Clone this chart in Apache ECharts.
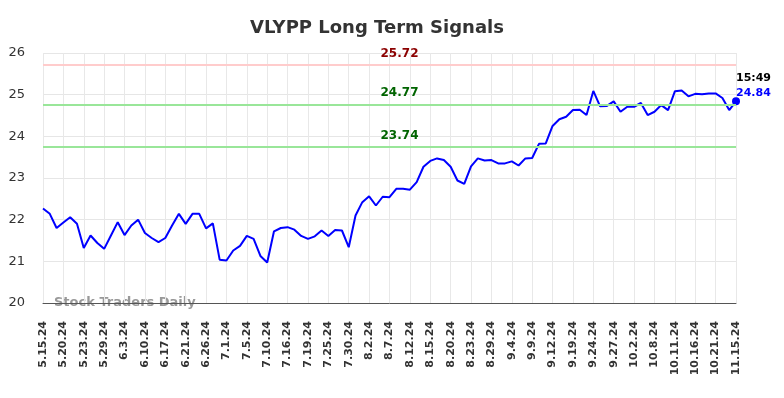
<!DOCTYPE html>
<html>
<head>
<meta charset="utf-8">
<script src="https://cdn.jsdelivr.net/npm/echarts@6/dist/echarts.min.js"></script>
<style>
  html, body { margin: 0; padding: 0; background: #fff; }
  #chart { width: 784px; height: 398px; }
</style>
</head>
<body>
<div id="chart"></div>
<script>
// x axis labels, one every 3 points
const tickLabels = ['5.15.24', '5.20.24', '5.23.24', '5.29.24', '6.3.24', '6.10.24', '6.17.24', '6.21.24',
  '6.26.24', '7.1.24', '7.5.24', '7.10.24', '7.16.24', '7.19.24', '7.25.24', '7.30.24', '8.2.24', '8.7.24',
  '8.12.24', '8.15.24', '8.20.24', '8.23.24', '8.29.24', '9.4.24', '9.9.24', '9.12.24', '9.19.24', '9.24.24',
  '9.27.24', '10.2.24', '10.8.24', '10.11.24', '10.16.24', '10.21.24', '11.15.24']

const prices = [
  22.27, 22.14, 21.80, 21.93, 22.06, 21.90, 21.32, 21.62, 21.44, 21.30,
  21.62, 21.94, 21.63, 21.86, 22.00, 21.68, 21.56, 21.46, 21.56, 21.86,
  22.14, 21.90, 22.14, 22.14, 21.79, 21.91, 21.04, 21.02, 21.26, 21.37,
  21.61, 21.54, 21.13, 20.97, 21.72, 21.80, 21.82, 21.76, 21.61, 21.54,
  21.60, 21.74, 21.61, 21.75, 21.74, 21.34, 22.10, 22.42, 22.56, 22.34,
  22.55, 22.54, 22.74, 22.74, 22.72, 22.90, 23.27, 23.41, 23.47, 23.43,
  23.27, 22.94, 22.86, 23.28, 23.47, 23.42, 23.43, 23.35, 23.35, 23.40,
  23.30, 23.47, 23.48, 23.82, 23.83, 24.25, 24.41, 24.47, 24.63, 24.64,
  24.51, 25.09, 24.72, 24.73, 24.84, 24.59, 24.71, 24.71, 24.80, 24.51,
  24.59, 24.75, 24.63, 25.08, 25.10, 24.96, 25.02, 25.01, 25.03, 25.03,
  24.92, 24.63, 24.84
]

// signal levels
const redLevels = [25.72]
const greenLevels = [24.77, 23.74]
const lastTime = '15:49'

// categories: label on every third point
const categories = prices.map((v, i) => (i % 3 === 0 ? tickLabels[i / 3] : ''))

const myChart = echarts.init(document.getElementById('chart'))

const levelLine = (v, lineColor, textColor) => ({
  yAxis: v,
  lineStyle: { color: lineColor, width: 2, type: 'solid' },
  label: {
    show: true,
    position: 'middle',
    formatter: v.toFixed(2),
    color: textColor,
    fontWeight: 'bold',
    fontSize: 12,
    fontFamily: 'DejaVu Sans',
    offset: [10, 0]
  }
})

const lineData = prices.map((v, i) => {
  if (i !== prices.length - 1) return v
  // last point gets the dot and time / price label
  return {
    value: v,
    symbol: 'circle',
    symbolSize: 8,
    itemStyle: { color: '#0000ff' },
    label: {
      show: true,
      position: [4, -27],
      formatter: '{t|' + lastTime + '}\n{v|' + v.toFixed(2) + '}',
      rich: {
        t: { color: '#000', fontWeight: 'bold', fontSize: 11, lineHeight: 15, fontFamily: 'DejaVu Sans' },
        v: { color: '#0000ff', fontWeight: 'bold', fontSize: 11, lineHeight: 15, fontFamily: 'DejaVu Sans' }
      }
    }
  }
})

let option = {
  animation: false,
  title: {
    text: 'VLYPP Long Term Signals',
    left: 245,
    top: 14,
    textStyle: {
      fontSize: 18,
      fontWeight: 'bold',
      color: '#333',
      fontFamily: 'DejaVu Sans'
    }
  },
  grid: {
    left: 43,
    right: 48,
    top: 53,
    bottom: 95
  },
  xAxis: {
    type: 'category',
    boundaryGap: false,
    data: categories,
    axisLine: { lineStyle: { color: '#555', width: 1 } },
    axisTick: { show: false },
    axisLabel: {
      interval: 2,
      rotate: 90,
      color: '#333',
      fontSize: 11,
      fontWeight: 'bold',
      fontFamily: 'DejaVu Sans',
      margin: 18
    },
    splitLine: {
      show: true,
      interval: 2,
      lineStyle: { color: '#e8e8e8' }
    }
  },
  yAxis: {
    type: 'value',
    min: 20,
    max: 26,
    interval: 1,
    axisLine: { show: false },
    axisTick: { show: false },
    axisLabel: {
      color: '#333',
      fontSize: 13,
      fontFamily: 'DejaVu Sans',
      margin: 18
    },
    splitLine: { lineStyle: { color: '#e6e6e6' } }
  },
  graphic: [{
    type: 'text',
    left: 54,
    top: 296,
    z: -10,
    style: {
      text: 'Stock Traders Daily',
      fill: '#999',
      fontSize: 13,
      fontWeight: 'bold',
      fontFamily: 'DejaVu Sans'
    }
  }],
  series: [
    {
      type: 'line',
      data: lineData,
      symbol: 'none',
      lineStyle: { color: '#0000ff', width: 2 },
      itemStyle: { color: '#0000ff' },
      markLine: {
        silent: true,
        symbol: ['none', 'none'],
        data: redLevels.map(v => levelLine(v, '#ffcccc', '#8b0000'))
          .concat(greenLevels.map(v => levelLine(v, '#99e699', '#006400')))
      },
      z: 3
    }
  ]
}
myChart.setOption(option)
</script>
</body>
</html>
